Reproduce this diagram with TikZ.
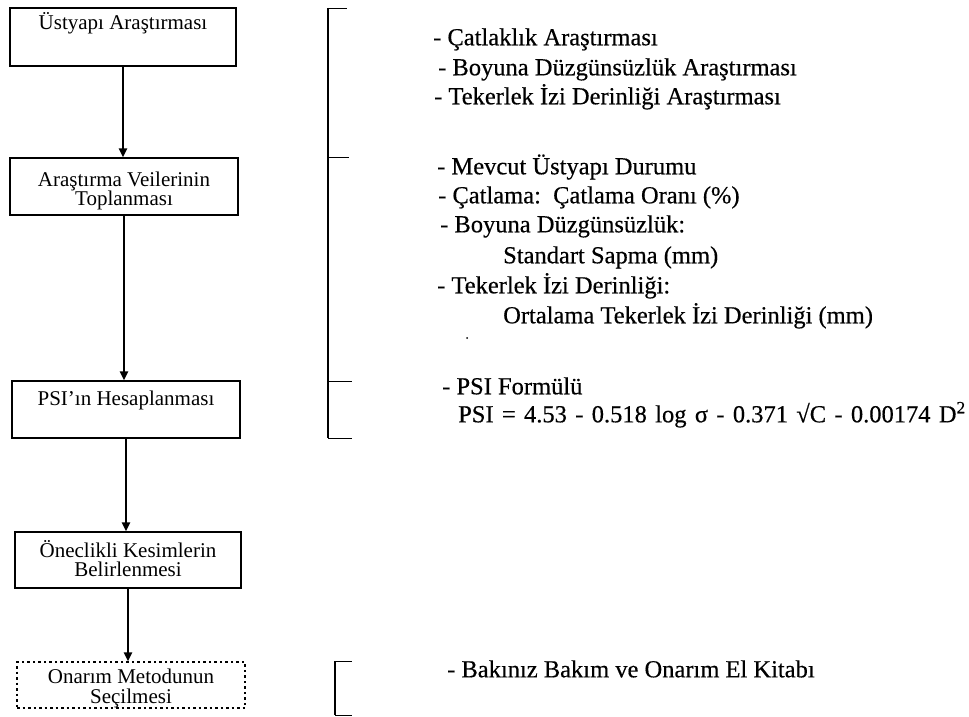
\documentclass[tikz,border=0pt]{standalone}
\usepackage{fontspec}
\setmainfont{Liberation Serif}
\newfontfamily\rfont[FakeBold=0.4]{Liberation Serif}
\usetikzlibrary{arrows.meta}
\begin{document}
\begin{tikzpicture}[x=1pt,y=-1pt,
  stepbox/.style={draw,line width=1.2pt,inner sep=0pt},
  btxt/.style={inner sep=0pt,align=center,font=\fontsize{21}{19.5}\selectfont},
  flow/.style={line width=2.2pt,-{Triangle[length=9pt,width=8pt]}},
  brk/.style={line width=2pt},
  tick/.style={line width=0.9pt},
  rtxt/.style={anchor=mid west,inner sep=0pt,font=\rfont\fontsize{24.5}{30}\selectfont}]
\useasboundingbox (0,0) rectangle (969,717);
% boxes
\node[stepbox,minimum width=226pt,minimum height=58pt] (b1) at (123,37) {};
\node[stepbox,minimum width=228pt,minimum height=57pt] (b2) at (124,186.5) {};
\node[stepbox,minimum width=228pt,minimum height=57pt] (b3) at (126,409.5) {};
\node[stepbox,minimum width=226pt,minimum height=56pt] (b4) at (128,560) {};
\node[stepbox,dash pattern=on 2.5pt off 3pt,minimum width=228pt,minimum height=46pt] (b5) at (131,685) {};
\node[btxt,anchor=mid] (t1) at (123,27) {Üstyapı Araştırması};
\node[btxt] (t2) at (124,191) {Araştırma Veilerinin\\ Toplanması};
\node[btxt,anchor=mid] (t3) at (126,403) {PSI'ın Hesaplanması};
\node[btxt] (t4) at (128,558.5) {Öneclikli Kesimlerin\\ Belirlenmesi};
\node[btxt] (t5) at (131,688.5) {Onarım Metodunun\\ Seçilmesi};
% arrows
\draw[flow] (b1.south) -- (b1.south |- b2.north);
\draw[flow] (b2.south) -- (b2.south |- b3.north);
\draw[flow] (b3.south) -- (b3.south |- b4.north);
\draw[flow] (b4.south) -- (b4.south |- b5.north);
% big bracket
\draw[brk] (328,8) -- (328,438);
\draw[tick] (328,8) -- (347,8);
\draw[tick] (328,157) -- (349,157);
\draw[tick] (328,381) -- (352,381);
\draw[tick] (328,438) -- (352,438);
% small bracket
\draw[brk] (335,661) -- (335,715);
\draw[tick] (335,661) -- (352,661);
\draw[tick] (335,715) -- (352,715);
% texts
\node[rtxt] (r1) at (433,43) {- Çatlaklık Araştırması};
\node[rtxt] (r2) at (438,73) {- Boyuna Düzgünsüzlük Araştırması};
\node[rtxt] (r3) at (434,102) {- Tekerlek İzi Derinliği Araştırması};
\node[rtxt] (r4) at (437,172) {- Mevcut Üstyapı Durumu};
\node[rtxt] (r5) at (438,201) {- Çatlama:\ \ Çatlama Oranı (\%)};
\node[rtxt] (r6) at (440,230) {- Boyuna Düzgünsüzlük:};
\node[rtxt] (r7) at (503,261) {Standart Sapma (mm)};
\node[rtxt] (r8) at (437,291) {- Tekerlek İzi Derinliği:};
\node[rtxt] (r9) at (503,321) {Ortalama Tekerlek İzi Derinliği (mm)};
\fill (467,338) circle (1pt);
\node[rtxt] (r10) at (442,392) {- PSI Formülü};
\node[rtxt] (r11) at (458,420) {\spaceskip=0.34em PSI = 4.53 - 0.518 log σ - 0.371 √C - 0.00174 D\textsuperscript{2}};
\node[rtxt] (r12) at (447,675) {- Bakınız Bakım ve Onarım El Kitabı};
\end{tikzpicture}
\end{document}
